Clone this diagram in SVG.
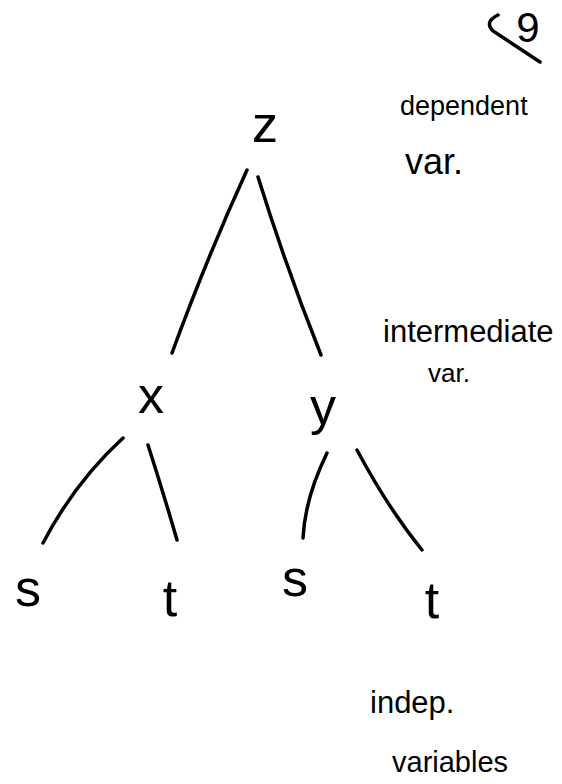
<svg xmlns="http://www.w3.org/2000/svg" width="562" height="784" viewBox="0 0 562 784">
<style>
.node{font-family:"Liberation Sans",Arial,sans-serif;font-size:52px;fill:#000;text-anchor:middle}
.lbl{font-family:"Liberation Sans",Arial,sans-serif;fill:#000}
.edge{fill:none;stroke:#000;stroke-width:3.5;stroke-linecap:round}
</style>
<rect width="562" height="784" fill="#fff"/>
<g id="mark">
<path class="edge" d="M498,15 Q484,22 493,31 L540,62" stroke-width="3"/>
<text class="lbl" x="528" y="42" font-size="42" text-anchor="middle">9</text>
</g>
<g id="connectors">
<path class="edge" d="M247,170 Q208,255 172,353"/>
<path class="edge" d="M258,177 Q287,270 321,355"/>
<path class="edge" d="M123,438 Q75,482 43,543"/>
<path class="edge" d="M148,445 Q164,495 177,540"/>
<path class="edge" d="M327,453 Q305,498 303,538"/>
<path class="edge" d="M357,450 Q388,508 422,550"/>
</g>
<g id="node-z"><text class="node" x="265" y="142">z</text></g>
<g id="node-x"><text class="node" x="151" y="413">x</text></g>
<g id="node-y"><text class="node" x="323" y="424">y</text></g>
<g id="node-s1"><text class="node" x="28" y="606">s</text></g>
<g id="node-t1"><text class="node" x="170" y="616">t</text></g>
<g id="node-s2"><text class="node" x="295" y="596">s</text></g>
<g id="node-t2"><text class="node" x="432" y="618">t</text></g>
<g id="label-dependent">
<text class="lbl" x="400" y="115" font-size="27">dependent</text>
<text class="lbl" x="405" y="174" font-size="36">var.</text>
</g>
<g id="label-intermediate">
<text class="lbl" x="383" y="342" font-size="31">intermediate</text>
<text class="lbl" x="428" y="382" font-size="26">var.</text>
</g>
<g id="label-indep">
<text class="lbl" x="370" y="713" font-size="31">indep.</text>
<text class="lbl" x="392" y="772" font-size="29">variables</text>
</g>
</svg>
